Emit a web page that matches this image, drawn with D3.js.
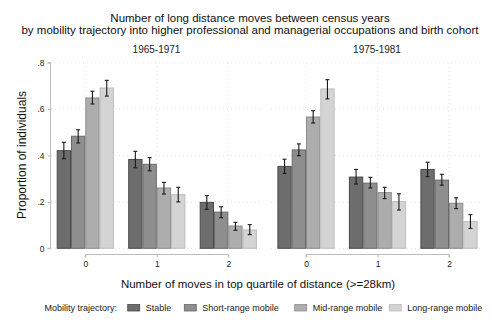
<!DOCTYPE html>
<html>
<head>
<meta charset="utf-8">
<script src="https://cdn.jsdelivr.net/npm/d3@7"></script>
<style>
  body { margin: 0; background: #fff; }
  svg { font-family: "Liberation Sans", Arial, sans-serif; }
</style>
</head>
<body>
<svg id="chart" width="500" height="333"></svg>
<script>
// Birth cohorts (panels), move counts (x categories) and mobility trajectories (series)
const cohorts = ["1965-1971", "1975-1981"];
const moves = ["0", "1", "2"];
const trajectories = ["Stable", "Short-range mobile", "Mid-range mobile", "Long-range mobile"];
const yTicks = [0, 0.2, 0.4, 0.6, 0.8];

// Proportions per cohort: [move count][trajectory]
const values1965 = [
  [0.421, 0.483, 0.648, 0.691],
  [0.383, 0.362, 0.260, 0.231],
  [0.198, 0.156, 0.096, 0.079]
];
const values1975 = [
  [0.353, 0.424, 0.566, 0.687],
  [0.307, 0.281, 0.240, 0.201],
  [0.340, 0.294, 0.194, 0.115]
];
// Confidence interval bounds [low, high]
const ci1965 = [
  [[0.386, 0.457], [0.454, 0.511], [0.622, 0.677], [0.656, 0.724]],
  [[0.347, 0.418], [0.334, 0.391], [0.234, 0.284], [0.200, 0.263]],
  [[0.168, 0.227], [0.132, 0.179], [0.078, 0.112], [0.059, 0.102]]
];
const ci1975 = [
  [[0.323, 0.384], [0.399, 0.450], [0.540, 0.593], [0.644, 0.727]],
  [[0.277, 0.340], [0.260, 0.306], [0.214, 0.263], [0.165, 0.235]],
  [[0.309, 0.371], [0.272, 0.319], [0.171, 0.218], [0.086, 0.145]]
];

const fills = ["#6d6d6d", "#8e8e8e", "#adadad", "#d4d4d4"];
const strokes = ["#4a4a4a", "#6a6a6a", "#8e8e8e", "#bdbdbd"];

const svg = d3.select("#chart");

// Titles
svg.append("text").attr("x", 250).attr("y", 21.5).attr("text-anchor", "middle")
  .attr("font-size", 11.5).attr("fill", "#111")
  .text("Number of long distance moves between census years");
svg.append("text").attr("x", 250).attr("y", 34).attr("text-anchor", "middle")
  .attr("font-size", 11.5).attr("fill", "#111")
  .text("by mobility trajectory into higher professional and managerial occupations and birth cohort");

const y = d3.scaleLinear().domain([0, 0.8]).range([248.3, 62.7]);

const panels = [
  { name: cohorts[0], left: 51, right: 262, x0: 85.3, vals: values1965, ci: ci1965 },
  { name: cohorts[1], left: 271, right: 483, x0: 306, vals: values1975, ci: ci1975 }
];
const step = 71.5;
const barW = 14.3;

panels.forEach((p, pi) => {
  const g = svg.append("g");
  const x = d3.scalePoint().domain(moves).range([p.x0, p.x0 + 2 * step]);
  const inner = d3.scaleBand().domain(trajectories).range([-2 * barW, 2 * barW]).padding(0);

  // Panel subtitle
  g.append("text").attr("x", (p.left + p.right) / 2).attr("y", 53).attr("text-anchor", "middle")
    .attr("font-size", 10).attr("fill", "#222").text(p.name);

  // Gridlines
  g.selectAll(".hgrid").data(yTicks).join("line")
    .attr("x1", p.left).attr("x2", p.right)
    .attr("y1", d => y(d)).attr("y2", d => y(d))
    .attr("stroke", "#d9d9d9").attr("stroke-width", 0.8).attr("stroke-dasharray", "1,3");
  g.selectAll(".vgrid").data(moves).join("line")
    .attr("x1", d => x(d)).attr("x2", d => x(d))
    .attr("y1", y(0.8)).attr("y2", y(0))
    .attr("stroke", "#d9d9d9").attr("stroke-width", 0.8).attr("stroke-dasharray", "1,3");

  // Bars
  p.vals.forEach((row, mi) => {
    row.forEach((v, ti) => {
      const bx = x(moves[mi]) + inner(trajectories[ti]);
      g.append("rect")
        .attr("x", bx + 0.5).attr("y", y(v))
        .attr("width", barW - 1).attr("height", y(0) - y(v))
        .attr("fill", fills[ti]).attr("stroke", strokes[ti]).attr("stroke-width", 1);
    });
  });

  // Error bars
  p.ci.forEach((row, mi) => {
    row.forEach((c, ti) => {
      const cx = x(moves[mi]) + inner(trajectories[ti]) + barW / 2;
      const eg = g.append("g").attr("stroke", "#1a1a1a").attr("stroke-width", 1.1);
      eg.append("line").attr("x1", cx).attr("x2", cx).attr("y1", y(c[0])).attr("y2", y(c[1]));
      eg.append("line").attr("x1", cx - 2).attr("x2", cx + 2).attr("y1", y(c[0])).attr("y2", y(c[0]));
      eg.append("line").attr("x1", cx - 2).attr("x2", cx + 2).attr("y1", y(c[1])).attr("y2", y(c[1]));
    });
  });

  // X axis
  const xa = g.append("g").attr("transform", "translate(0,254.5)")
    .call(d3.axisBottom(x).tickSize(3).tickPadding(3));
  xa.select(".domain").attr("stroke", "#bbb").attr("d", `M${x("0")},3V0H${x("2")}V3`);
  xa.selectAll(".tick line").attr("stroke", "#bbb");
  xa.selectAll(".tick text").attr("font-size", 8.5).attr("fill", "#222")
    .attr("font-family", "'Liberation Sans', Arial, sans-serif");

  // Y axis on the first panel only
  if (pi === 0) {
    const ya = g.append("g").attr("transform", `translate(${p.left - 0.5},0)`)
      .call(d3.axisLeft(y).tickValues(yTicks).tickSize(3).tickPadding(3)
        .tickFormat(d => d === 0 ? "0" : d3.format(".1f")(d).replace(/^0/, "")));
    ya.select(".domain").attr("stroke", "#bbb").attr("d", `M-3,${y(0.8)}H0V${y(0)}H-3`);
    ya.selectAll(".tick line").attr("stroke", "#bbb");
    ya.selectAll(".tick text").attr("font-size", 8.5).attr("fill", "#222")
      .attr("font-family", "'Liberation Sans', Arial, sans-serif");
  }
});

// Axis titles
svg.append("text").attr("transform", "translate(26,155) rotate(-90)").attr("text-anchor", "middle")
  .attr("font-size", 12).attr("fill", "#111").text("Proportion of individuals");
svg.append("text").attr("x", 258).attr("y", 288).attr("text-anchor", "middle")
  .attr("font-size", 11.5).attr("fill", "#111").text("Number of moves in top quartile of distance (>=28km)");

// Legend
const legend = svg.append("g").attr("font-size", 9).attr("fill", "#222");
legend.append("text").attr("x", 117).attr("y", 311).attr("text-anchor", "end").text("Mobility trajectory:");
const legendX = [127.7, 184.3, 294.7, 389.3];
trajectories.forEach((t, i) => {
  legend.append("rect").attr("x", legendX[i]).attr("y", 304.5).attr("width", 12).attr("height", 6.5)
    .attr("fill", fills[i]).attr("stroke", strokes[i]).attr("stroke-width", 0.8);
  legend.append("text").attr("x", legendX[i] + 18).attr("y", 311).text(t);
});
</script>
</body>
</html>
